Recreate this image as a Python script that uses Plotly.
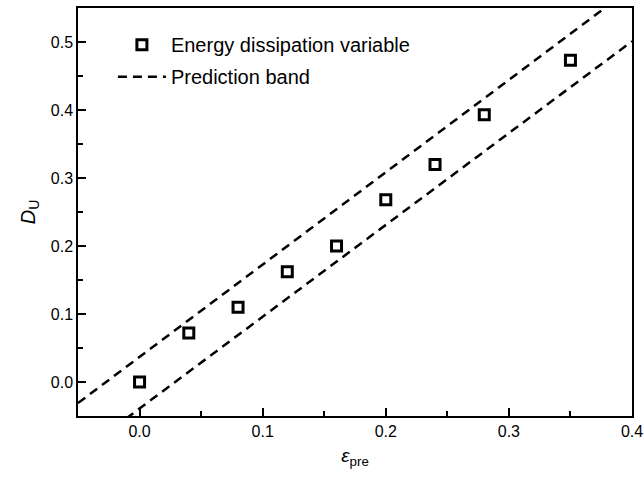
import plotly.graph_objects as go

strain = [0.0, 0.04, 0.08, 0.12, 0.16, 0.20, 0.24, 0.28, 0.35]
du = [0.0, 0.072, 0.110, 0.162, 0.200, 0.268, 0.320, 0.393, 0.473]

band_x = [-0.05, 0.40]
upper_y = [-0.031, 0.580]
lower_y = [-0.1065, 0.501]

x_ticks = [0.0, 0.1, 0.2, 0.3, 0.4]
y_ticks = [0.0, 0.1, 0.2, 0.3, 0.4, 0.5]

fig = go.Figure()
fig.add_trace(go.Scatter(
    x=strain, y=du, mode="markers", name="Energy dissipation variable", legendgroup="a",
    marker=dict(symbol="square-open", size=10, color="black", line=dict(width=3, color="black")),
))
fig.add_trace(go.Scatter(
    x=band_x, y=upper_y, mode="lines", name="Prediction band", legendgroup="b",
    line=dict(color="black", width=2.5, dash="9px,6px"),
))
fig.add_trace(go.Scatter(
    x=band_x, y=lower_y, mode="lines", name="Prediction band", showlegend=False, legendgroup="b",
    line=dict(color="black", width=2.5, dash="9px,6px"),
))

axis_common = dict(
    showline=True, linecolor="black", linewidth=1.5, mirror=True,
    ticks="inside", ticklen=8, tickwidth=1.5, tickcolor="black",
    showgrid=False, zeroline=False, automargin=False,
    tickfont=dict(family="Liberation Sans, Arial", size=16, color="black"),
    minor=dict(ticks="inside", ticklen=5, tickwidth=1.5, tickcolor="black"),
)

fig.update_layout(
    width=644, height=490,
    margin=dict(l=78, r=12, t=8, b=74),
    paper_bgcolor="white", plot_bgcolor="white",
    font=dict(family="Liberation Sans, Arial", size=16, color="black"),
    xaxis=dict(range=[-0.05, 0.4], tickvals=x_ticks, ticktext=[f"{v:.1f}" for v in x_ticks],
               title=dict(text="<i>ε</i><sub>pre</sub>", font=dict(size=19), standoff=10), **axis_common),
    yaxis=dict(range=[-0.05, 0.55], tickvals=y_ticks, ticktext=[f"{v:.1f}" for v in y_ticks],
               title=dict(text="<i>D</i><sub>U</sub>", font=dict(size=20), standoff=10), **axis_common),
    legend=dict(x=0.063, y=0.958, xanchor="left", yanchor="top", bgcolor="rgba(0,0,0,0)",
                font=dict(size=20), itemwidth=48, traceorder="grouped", tracegroupgap=3),
    showlegend=True,
)
fig.update_xaxes(minor=dict(tickvals=[-0.05, 0.05, 0.15, 0.25, 0.35]))
fig.update_yaxes(minor=dict(tickvals=[-0.05, 0.05, 0.15, 0.25, 0.35, 0.45]))

fig.write_html("out.html", config={"displayModeBar": False},
               post_script="document.body.style.margin='0';document.body.style.overflow='hidden';")
